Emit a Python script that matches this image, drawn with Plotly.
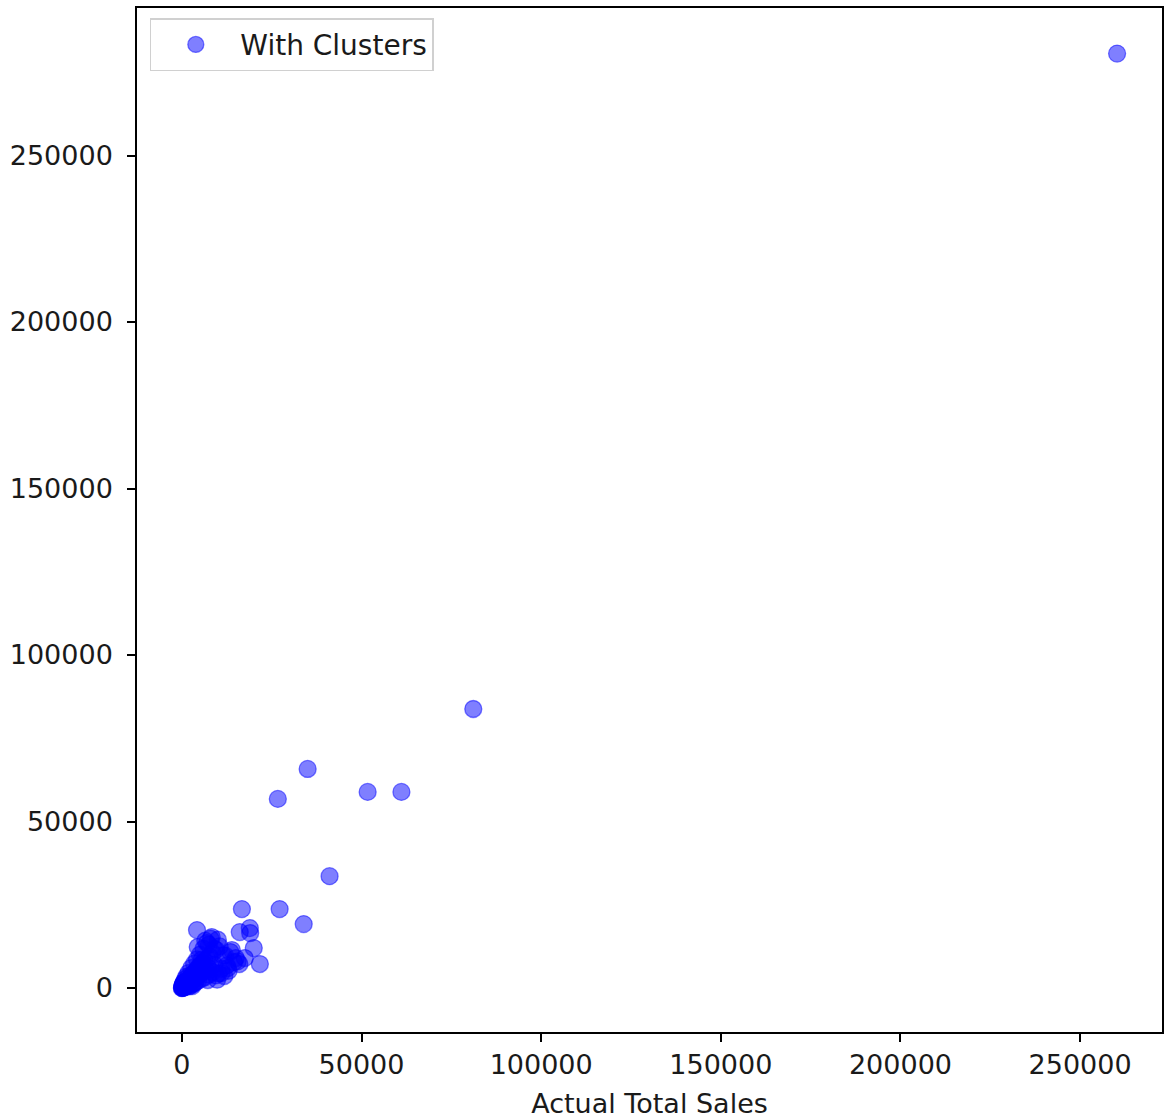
import plotly.graph_objects as go

# Actual vs predicted total sales
actual_sales = [
    260300, 81100, 35000, 26700, 51700, 61100, 41100, 27200, 16700, 33900,
    4200, 18900, 16100, 20000, 21700, 8300, 13900, 4400, 12800, 10000,
    19000, 17500, 15500, 11000, 9000, 7500, 6500, 5500, 9800, 12000,
    0, 50, 120, 200, 300, 400, 500, 650, 800, 900,
    1000, 1100, 1200, 1300, 1400, 1500, 1600, 1700, 1800, 2000,
    2100, 2200, 2400, 2500, 2600, 2800, 3000, 3100, 3300, 3500,
    3700, 3900, 4100, 4300, 4500, 4700, 5000, 5200, 5500, 5800,
    6000, 6300, 6600, 7000, 7300, 7700, 8000, 8500, 9000, 9500,
    600, 900, 1200, 300, 1500, 2500, 3500, 4500, 5500, 6500,
    7500, 8500, 1800, 2600, 3400, 4200, 5000, 6000, 7000, 8000,
    10500, 11500, 12500, 13500, 15000, 16000, 9500, 7200, 11000, 100,
    250, 700, 1000, 2000, 3000, 150, 450, 1900, 2900, 3800,
    13000, 14500, 11800, 10200,
]
predicted_sales = [
    280600, 83800, 65800, 56800, 58900, 58900, 33600, 23700, 23700, 19200,
    17400, 18000, 16800, 12000, 7200, 15300, 11400, 12300, 6000, 14500,
    16500, 9000, 8000, 4500, 11800, 13000, 14200, 8500, 2500, 9800,
    0, 30, 80, 150, 100, 350, 250, 600, 400, 900,
    700, 1200, 900, 1500, 1100, 1800, 1300, 2100, 1600, 2400,
    1700, 2900, 2000, 3300, 2200, 3800, 2500, 4200, 2800, 4700,
    3100, 5200, 3500, 5800, 3900, 6300, 4200, 6900, 4600, 7500,
    5000, 8100, 5500, 8800, 6000, 9500, 6500, 10500, 7000, 11500,
    1800, 2600, 3400, 1200, 600, 900, 1500, 2200, 2800, 3300,
    4000, 4800, 4500, 6000, 7300, 8600, 10000, 11800, 13500, 14800,
    12500, 9800, 6800, 10800, 9000, 7200, 3800, 2400, 5800, 500,
    900, 200, 2000, 500, 1200, 700, 1500, 3500, 600, 1800,
    5200, 7800, 3600, 4400,
]

series_name = "With Clusters"
x_title = "Actual Total Sales"
x_tick_values = [0, 50000, 100000, 150000, 200000, 250000]
y_tick_values = [0, 50000, 100000, 150000, 200000, 250000]

FONT = "DejaVu Sans"
TEXT_COLOR = "#1a1a1a"

fig = go.Figure()
fig.add_trace(go.Scatter(
    x=actual_sales,
    y=predicted_sales,
    mode="markers",
    name=series_name,
    showlegend=True,
    marker=dict(
        size=17,
        color="rgba(0,0,255,0.5)",
        line=dict(width=1.3, color="rgba(0,0,255,0.5)"),
    ),
))

axis_common = dict(
    showgrid=False,
    zeroline=False,
    showline=True,
    linecolor="black",
    linewidth=1.5,
    mirror=True,
    ticks="outside",
    ticklen=8,
    tickwidth=1.5,
    tickcolor="black",
    tickfont=dict(family=FONT, size=27, color=TEXT_COLOR),
)

fig.update_layout(
    width=1166,
    height=1119,
    margin=dict(l=137, r=2, t=8, b=87, pad=0),
    paper_bgcolor="white",
    plot_bgcolor="white",
    font=dict(family=FONT, size=27, color=TEXT_COLOR),
    xaxis=dict(
        range=[-12500, 272800],
        tickvals=x_tick_values,
        ticktext=[str(v) for v in x_tick_values],
        title=dict(text=x_title, font=dict(family=FONT, size=27, color=TEXT_COLOR), standoff=18),
        **axis_common,
    ),
    yaxis=dict(
        range=[-13200, 294300],
        tickvals=y_tick_values,
        ticktext=[str(v) for v in y_tick_values],
        ticklabelstandoff=9,
        **axis_common,
    ),
    legend=dict(
        x=0.0125,
        y=0.99,
        xanchor="left",
        yanchor="top",
        bgcolor="white",
        bordercolor="#d0d0d0",
        borderwidth=1.5,
        font=dict(family=FONT, size=28, color=TEXT_COLOR),
        itemwidth=79,
    ),
)

fig.write_html("out.html")
